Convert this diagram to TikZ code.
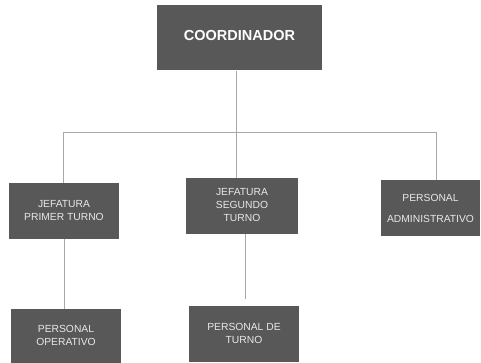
\documentclass[tikz,border=0pt]{standalone}
\usepackage{fontspec}
\setmainfont{Liberation Sans}
\definecolor{boxgray}{HTML}{585858}
\definecolor{txtgray}{HTML}{E8E8E8}
\definecolor{linegray}{HTML}{A8A8A8}
\newcommand{\upText}[2]{\raisebox{#1}{\begin{tabular}{@{}c@{}}#2\end{tabular}}}
\tikzset{
  orgbox/.style={rectangle, fill=boxgray, text=txtgray, align=center, inner sep=0pt,
    font=\fontsize{10.3}{13}\selectfont},
  conn/.style={draw=linegray, line width=0.7pt}
}
\begin{document}
\begin{tikzpicture}[x=1pt,y=-1pt]
\useasboundingbox (0,0) rectangle (481,363);
\fill[white] (0,0) rectangle (481,363);
\node[orgbox, minimum width=165pt, minimum height=65pt, text=white,
  font=\fontsize{14.5}{17}\selectfont\bfseries] (coord) at (239.5,37.5) {\upText{4pt}{COORDINADOR}};
\node[orgbox, minimum width=110pt, minimum height=56pt] (b1) at (64,211) {\upText{3pt}{JEFATURA\\PRIMER TURNO}};
\node[orgbox, minimum width=112pt, minimum height=56pt] (b2) at (242,206) {\upText{2pt}{JEFATURA\\SEGUNDO\\TURNO}};
\node[orgbox, minimum width=99pt, minimum height=56pt, font=\fontsize{10.3}{21}\selectfont] (b3) at (430.5,208) {\upText{5pt}{PERSONAL\\ADMINISTRATIVO}};
\node[orgbox, minimum width=110pt, minimum height=54pt] (b4) at (66,336) {\upText{2pt}{PERSONAL\\OPERATIVO}};
\node[orgbox, minimum width=110pt, minimum height=56pt] (b5) at (244,334) {\upText{4pt}{PERSONAL DE\\TURNO}};
\coordinate (top) at (236,71);
\coordinate (busL) at (63,132);
\coordinate (busM) at (236,132);
\coordinate (busR) at (436,132);
\coordinate (b2end) at (245,299);
\draw[conn] (top) -- (busM);
\draw[conn] (busL) -- (busR);
\draw[conn] (busL) -- (b1.north -| busL);
\draw[conn] (busM) -- (b2.north -| busM);
\draw[conn] (busR) -- (b3.north -| busR);
\draw[conn] (b1.south) -- (b1.south |- b4.north);
\draw[conn] (b2.south -| b2end) -- (b2end);
\end{tikzpicture}
\end{document}
